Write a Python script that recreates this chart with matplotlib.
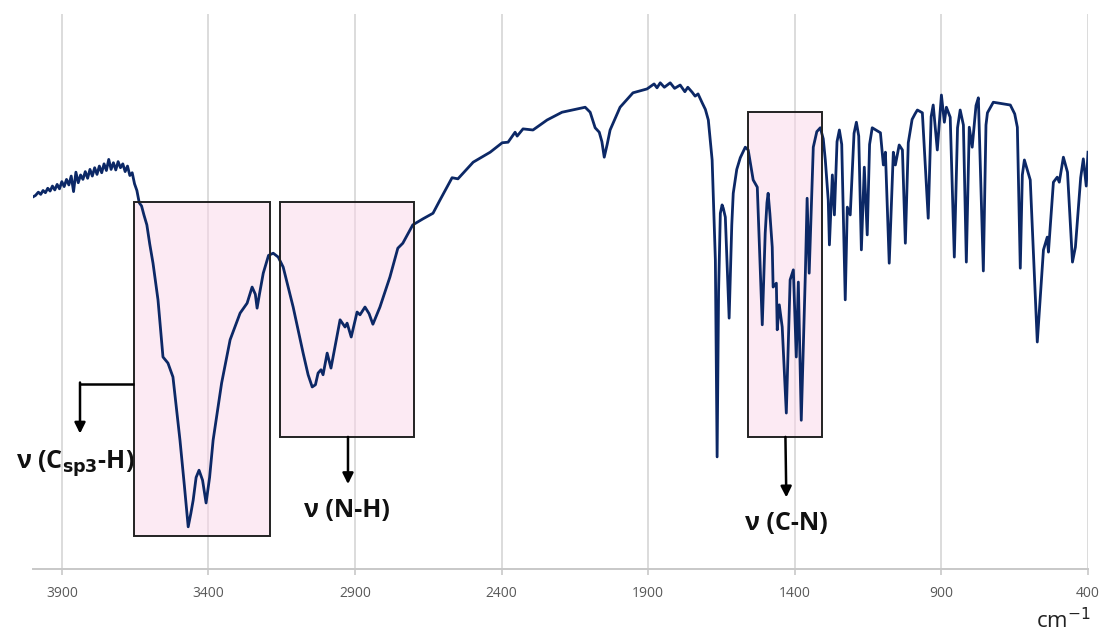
import matplotlib
matplotlib.use("Agg")
import matplotlib.pyplot as plt
from matplotlib.patches import Rectangle

# IR spectrum: wavenumber (cm-1) and transmittance (%)
wavenumber = [
    4000, 3990, 3980, 3972, 3964, 3956, 3948, 3940, 3932, 3924, 3916, 3908,
    3900, 3892, 3884, 3876, 3868, 3860, 3852, 3844, 3836, 3828, 3820, 3812,
    3804, 3796, 3788, 3780, 3772, 3764, 3756, 3748, 3740, 3732, 3724, 3716,
    3708, 3700, 3692, 3684, 3676, 3668, 3660, 3652, 3644, 3636, 3628, 3620,
    3610, 3600, 3589, 3572, 3555, 3538, 3521, 3497, 3482, 3469, 3460, 3452,
    3442, 3432, 3420, 3408, 3396, 3384, 3355, 3326, 3292, 3268, 3251, 3240,
    3234, 3226, 3213, 3195, 3179, 3162, 3145, 3111, 3077, 3060, 3046, 3035,
    3026, 3016, 3009, 2995, 2982, 2951, 2934, 2927, 2913, 2893, 2883, 2866,
    2852, 2839, 2815, 2781, 2754, 2737, 2703, 2668, 2634, 2610, 2569, 2549,
    2497, 2439, 2398, 2378, 2354, 2347, 2327, 2293, 2245, 2194, 2159, 2115,
    2098, 2081, 2067, 2058, 2050, 2040, 2030, 1996, 1952, 1904, 1880, 1870,
    1859, 1845, 1825, 1810, 1791, 1775, 1765, 1750, 1740, 1730, 1716, 1705,
    1695, 1682, 1671, 1665, 1660, 1654, 1648, 1644, 1637, 1624, 1615, 1610,
    1598, 1586, 1569, 1559, 1542, 1528, 1511, 1501, 1495, 1491, 1485, 1477,
    1474, 1463, 1460, 1453, 1443, 1429, 1416, 1405, 1395, 1388, 1378, 1364,
    1358, 1351, 1337, 1325, 1313, 1303, 1296, 1286, 1282, 1272, 1265, 1256,
    1248, 1240, 1228, 1221, 1211, 1198, 1190, 1182, 1173, 1163, 1153, 1145,
    1136, 1108, 1098, 1091, 1078, 1064, 1057, 1044, 1033, 1023, 1013, 1000,
    990, 982, 965, 945, 935, 928, 914, 900, 890, 883, 870, 856, 845, 836,
    825, 815, 805, 795, 782, 774, 757, 748, 743, 723, 699, 665, 650, 641,
    631, 624, 617, 597, 573, 552, 539, 535, 518, 505, 498, 484, 470, 453,
    443, 425, 416, 406, 400,
]
transmittance = [
    67.0, 67.3, 67.9, 67.5, 68.2, 67.8, 68.6, 68.1, 69.0, 68.3, 69.3, 68.5,
    69.8, 68.9, 70.2, 69.2, 70.8, 68.0, 71.5, 69.6, 71.0, 70.2, 71.6, 70.4,
    72.0, 70.8, 72.3, 71.1, 72.6, 71.4, 73.0, 71.8, 73.8, 72.0, 73.2, 71.9,
    73.4, 72.3, 73.0, 71.6, 72.6, 70.9, 71.4, 69.4, 68.2, 66.0, 65.4, 63.8,
    62.0, 58.5, 55.1, 48.5, 38.2, 37.1, 34.6, 23.2, 15.0, 7.6, 10.0, 12.4,
    16.5, 17.8, 16.0, 11.9, 16.5, 23.2, 33.5, 41.3, 46.1, 47.9, 50.8, 49.5,
    47.0, 49.5, 53.3, 56.5, 56.9, 56.2, 54.4, 47.2, 38.9, 35.0, 32.8, 33.2,
    35.3, 35.9, 35.0, 38.9, 36.2, 44.9, 43.6, 44.3, 41.8, 46.3, 45.8, 47.2,
    46.0, 44.1, 47.2, 52.6, 57.8, 58.7, 62.0, 63.1, 64.1, 66.5, 70.5, 70.3,
    73.3, 75.1, 76.8, 76.9, 78.7, 78.0, 79.3, 79.1, 80.9, 82.3, 82.7, 83.2,
    82.3, 79.5, 78.7, 77.0, 74.2, 76.5, 79.1, 83.2, 85.8, 86.5, 87.4, 86.7,
    87.6, 86.8, 87.6, 86.6, 87.2, 86.0, 86.8, 85.9, 85.2, 85.6, 84.0, 82.8,
    80.9, 73.7, 55.7, 20.2, 50.0, 64.1, 65.6, 65.0, 63.4, 45.2, 62.0, 67.7,
    72.0, 74.1, 76.0, 75.5, 70.1, 68.8, 44.0, 60.5, 66.0, 67.7, 64.0, 58.0,
    50.8, 51.5, 43.1, 47.6, 43.6, 28.1, 52.1, 53.9, 38.2, 51.7, 26.8, 53.3,
    66.8, 53.3, 76.0, 78.8, 79.5, 77.5, 73.7, 66.5, 58.4, 71.0, 63.8, 77.0,
    79.1, 76.5, 48.5, 65.2, 63.8, 78.5, 80.5, 78.0, 57.5, 72.4, 60.2, 76.5,
    79.5, 78.6, 72.8, 75.1, 55.1, 75.1, 72.8, 76.4, 75.5, 58.7, 76.8, 81.0,
    82.0, 82.7, 82.2, 63.2, 81.5, 83.6, 75.5, 85.4, 80.5, 83.2, 81.4, 56.2,
    79.5, 82.7, 80.0, 55.3, 79.6, 76.0, 83.5, 84.9, 53.7, 80.0, 82.2, 84.1,
    83.9, 83.6, 82.0, 79.6, 54.2, 71.0, 73.7, 70.1, 40.9, 57.5, 59.8, 57.1,
    69.7, 70.6, 69.7, 74.2, 71.5, 55.3, 58.0, 70.5, 73.9, 69.0, 75.1,
]

xticks = [3900, 3400, 2900, 2400, 1900, 1400, 900, 400]

# Highlighted band regions: (high wavenumber, low wavenumber, bottom %, top %)
band_boxes = [
    (3653, 3190, 5.9, 66.1),
    (3156, 2699, 23.8, 66.1),
    (1559, 1307, 23.8, 82.3),
]

line_color = "#0c2866"

fig = plt.figure(figsize=(11.03, 6.36), dpi=100)
ax = fig.add_axes([0.02947, 0.10535, 0.95694, 0.87264])

ax.plot(wavenumber, transmittance, color=line_color, lw=2.0,
        solid_joinstyle="round", zorder=3)

ax.set_xlim(4000, 400)
ax.set_ylim(0, 100)
ax.set_xticks(xticks)
ax.set_xticklabels([str(t) for t in xticks], fontsize=10,
                   color="#595959", fontfamily="Open Sans")
ax.set_yticks([])
ax.grid(axis="x", color="#d9d9d9", lw=1.3, zorder=0)
for side in ("top", "right", "left"):
    ax.spines[side].set_visible(False)
ax.spines["bottom"].set_color("#c8c8c8")
ax.spines["bottom"].set_linewidth(1.4)
ax.tick_params(axis="x", direction="out", length=4, width=1.2,
               color="#c8c8c8", pad=8)

for hi, lo, bottom, top in band_boxes:
    ax.add_patch(Rectangle((lo, bottom), hi - lo, top - bottom,
                           facecolor="#fbd6e8", alpha=0.5, edgecolor="none",
                           zorder=2))
    ax.add_patch(Rectangle((lo, bottom), hi - lo, top - bottom,
                           facecolor="none", edgecolor="#222222", lw=1.4,
                           zorder=4))

arrow_kw = dict(arrowstyle="-|>", color="black", lw=1.8,
                mutation_scale=16, shrinkA=0, shrinkB=0)
label_kw = dict(fontsize=18, fontweight="bold", color="#111111",
                fontfamily="Open Sans", ha="center", va="center")

# C(sp3)-H stretch: elbow from the left side of the first box
ax.plot([3653, 3838], [33.3, 33.3], color="black", lw=1.8, zorder=5,
        solid_capstyle="butt")
ax.annotate("", xy=(3838, 24.4), xytext=(3838, 33.6),
            arrowprops=arrow_kw, zorder=5)
ax.text(3855, 19.0, "ν (C$_{\\mathbf{sp3}}$-H)", **label_kw)

# N-H stretch
ax.annotate("", xy=(2924, 15.3), xytext=(2924, 23.8),
            arrowprops=arrow_kw, zorder=5)
ax.text(2927, 10.6, "ν (N-H)", **label_kw)

# C-N stretch
ax.annotate("", xy=(1429, 12.9), xytext=(1432, 23.8),
            arrowprops=arrow_kw, zorder=5)
ax.text(1429, 8.2, "ν (C-N)", **label_kw)

fig.text(1091 / 1103, 1 - 628 / 636, "cm$^{-1}$", fontsize=16,
         color="#222222", fontfamily="Open Sans", ha="right", va="baseline")

fig.savefig("out.png", dpi=100)
